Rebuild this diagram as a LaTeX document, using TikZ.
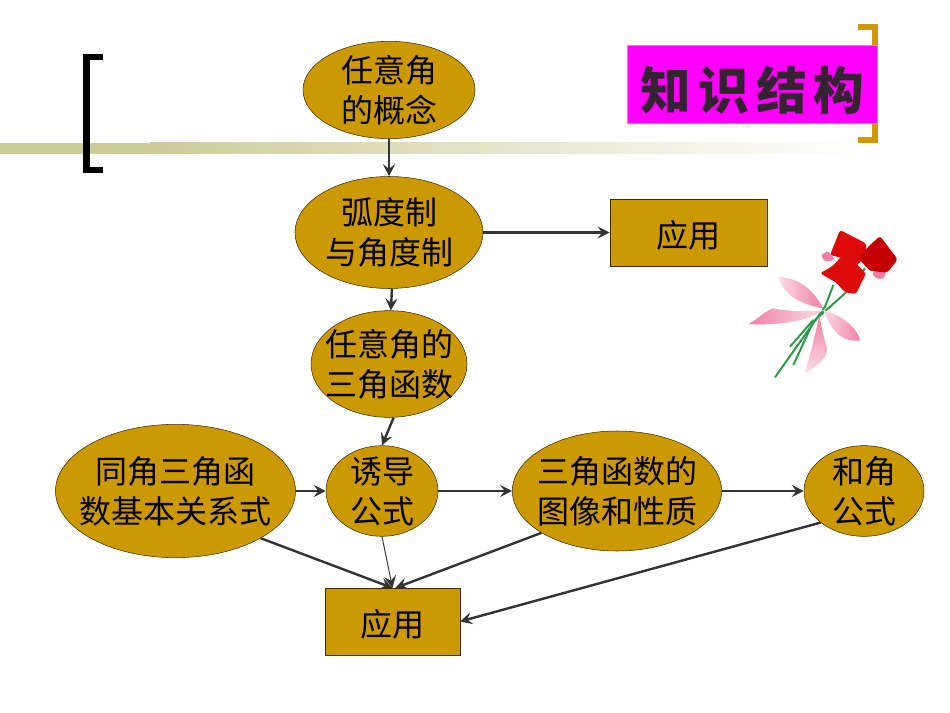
\documentclass[tikz,border=0pt]{standalone}
\usepackage{fontspec}
\setmainfont{Noto Sans CJK SC}
\newfontfamily\titlefont[LetterSpace=14]{Noto Sans CJK SC}
\usetikzlibrary{shapes.geometric,arrows.meta}
\definecolor{gold}{HTML}{CC9900}
\definecolor{khaki}{HTML}{CCCC99}
\definecolor{edgegray}{HTML}{333333}
\definecolor{titlepink}{HTML}{FF00FF}
\definecolor{titleink}{HTML}{33222F}
\definecolor{ribbondark}{HTML}{F07FA6}
\definecolor{ribbonpale}{HTML}{FBDCE6}
\definecolor{stemgreen}{HTML}{2F9A4A}
\definecolor{rosered}{HTML}{DD0A0A}
\definecolor{rosedark}{HTML}{C40000}
\tikzset{
  blob/.style={ellipse,draw=black!70!gold,fill=gold,align=center,inner sep=-12pt,
    font=\fontsize{24}{30}\selectfont,execute at begin node={\rule{0pt}{24pt}}},
  goldbox/.style={rectangle,draw=black!70!gold,fill=gold,align=center,
    font=\fontsize{24}{30}\selectfont,execute at begin node={\rule{0pt}{24pt}}},
  link/.style={->,draw=edgegray,line width=1.8pt},
  thinlink/.style={->,draw=edgegray,line width=0.7pt},
  >={Stealth[length=9pt,width=9pt,inset=3.5pt]}
}
\begin{document}
\begin{tikzpicture}[x=0.75pt,y=-0.75pt]
  \useasboundingbox (0,0) rectangle (950,713);

  \fill[khaki] (0,143) rectangle (150,154);
  \shade[left color=khaki,right color=white,shading angle=90,draw=none] (150,143) rectangle (860,154);
  \draw[black,line width=5pt,line cap=butt,miter limit=10] (103,57) -- (86.5,57) -- (86.5,170) -- (103,170);
  \draw[gold,line width=5pt,line cap=butt] (858,27) -- (875,27) -- (875,140) -- (858,140);

  \node[rectangle,draw=orange!80!yellow,fill=titlepink,line width=0.8pt,minimum width=188pt,minimum height=59pt,
    text=titleink,font=\titlefont\bfseries\fontsize{38}{40}\selectfont,
    execute at begin node={\rule{0pt}{41pt}}] (title) at (752.5,84.5) {知识结构};

  \node[blob,minimum width=129pt,minimum height=73pt] (concept) at (389,90) {任意角\\的概念};
  \node[blob,minimum width=141pt,minimum height=84pt] (radian) at (389,232.5) {弧度制\\与角度制};
  \node[blob,minimum width=117pt,minimum height=80pt] (trig) at (389,364) {任意角的\\三角函数};
  \node[blob,minimum width=180pt,minimum height=100pt] (relation) at (175.5,491) {同角三角函\\数基本关系式};
  \node[blob,minimum width=84pt,minimum height=68pt] (induce) at (382,491) {诱导\\公式};
  \node[blob,minimum width=157pt,minimum height=90pt] (graph) at (617,491) {三角函数的\\图像和性质};
  \node[blob,minimum width=90pt,minimum height=68pt] (sum) at (864,491) {和角\\公式};
  \node[goldbox,minimum width=118pt,minimum height=50pt] (use_a) at (688.5,232.5) {应用};
  \node[goldbox,minimum width=101pt,minimum height=50pt] (use_b) at (392.5,621.5) {应用};

  \draw[link] (concept) -- (radian);
  \draw[link] (radian) -- (use_a);
  \draw[link] (radian.-87) -- (trig.88);
  \draw[link] (trig.-85) -- (induce.north);
  \draw[link] (relation) -- (induce);
  \draw[link] (induce) -- (graph);
  \draw[link] (graph) -- (sum);
  \draw[link] (relation.-29) -- (use_b.north);
  \draw[thinlink] (induce.south) -- (use_b.north);
  \draw[link] (graph.-151) -- (use_b.85);
  \draw[link] (sum.-144) -- (use_b.east);

  \begin{scope}[shift={(730,210)},x=0.25pt,y=-0.25pt,line join=round]
    \draw[stemgreen,line width=1.5pt] (135,502) -- (285,290) -- (310,225);
    \draw[stemgreen,line width=1.5pt] (190,465) -- (250,335) -- (345,250);
    \draw[stemgreen,line width=1.5pt] (180,410) -- (250,330);
    \draw[stemgreen,line width=1.5pt] (405,175) -- (345,250);
    \shade[left color=ribbonpale,right color=ribbondark] (280,295) .. controls (220,285) and (160,260) .. (145,200) .. controls (210,205) and (250,240) .. cycle;
    \shade[left color=ribbondark,right color=ribbonpale] (55,343) .. controls (85,325) and (110,300) .. (130,295) .. controls (180,305) and (230,305) .. (280,300) .. controls (230,335) and (150,345) .. cycle;
    \shade[left color=ribbonpale,right color=ribbondark] (280,300) .. controls (345,320) and (385,360) .. (390,392) .. controls (345,395) and (310,380) .. cycle;
    \shade[top color=ribbondark,bottom color=ribbonpale] (268,318) .. controls (250,400) and (235,450) .. (225,490) .. controls (260,470) and (300,440) .. (290,410) .. controls (280,380) and (275,350) .. cycle;
    \fill[ribbondark,rounded corners=2pt] (272,135) -- (295,122) -- (315,150) -- (285,155) -- cycle;
    \fill[ribbondark,rounded corners=2pt] (425,185) -- (470,185) -- (460,207) -- (435,205) -- cycle;
    \fill[rosered,rounded corners=2pt] (330,60) -- (408,100) -- (410,135) -- (378,170) -- (340,145) -- (300,135) -- cycle;
    \fill[rosedark,rounded corners=2pt] (450,78) -- (503,148) -- (472,188) -- (420,183) -- (385,145) -- (420,105) -- cycle;
    \fill[rosered,rounded corners=2pt] (345,128) -- (408,190) -- (378,252) -- (345,247) -- (318,217) -- (270,190) -- (308,168) -- cycle;
  \end{scope}
\end{tikzpicture}
\end{document}
